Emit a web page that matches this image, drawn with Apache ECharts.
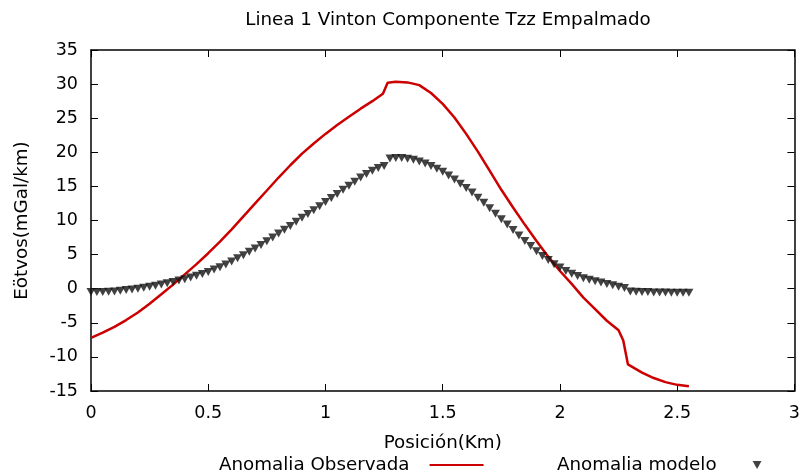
<!DOCTYPE html>
<html>
<head>
<meta charset="utf-8">
<script src="https://cdn.jsdelivr.net/npm/echarts@6/dist/echarts.min.js"></script>
<style>
  html, body { margin: 0; padding: 0; background: #fff; }
  #chart { width: 803px; height: 476px; }
</style>
</head>
<body>
<div id="chart"></div>
<script>
// Anomalia Observada (linea roja)
const posObs = [0, 0.05, 0.10, 0.15, 0.20, 0.25, 0.30, 0.35, 0.40, 0.45, 0.50, 0.55, 0.60, 0.65,
  0.70, 0.75, 0.80, 0.85, 0.90, 0.95, 1.00, 1.05, 1.10, 1.15, 1.20, 1.245, 1.265, 1.30, 1.35,
  1.40, 1.45, 1.50, 1.55, 1.60, 1.65, 1.70, 1.75, 1.80, 1.85, 1.90, 1.95, 2.00, 2.05, 2.10,
  2.15, 2.20, 2.25, 2.27, 2.29, 2.35, 2.40, 2.45, 2.50, 2.55]
const valObs = [-7.2, -6.45, -5.6, -4.6, -3.5, -2.2, -0.8, 0.6, 2.1, 3.6, 5.2, 6.9, 8.7, 10.6,
  12.5, 14.4, 16.3, 18.1, 19.8, 21.3, 22.7, 24.0, 25.2, 26.4, 27.5, 28.6, 30.2, 30.35, 30.25,
  29.85, 28.7, 27.1, 25.1, 22.7, 20.1, 17.3, 14.5, 11.9, 9.4, 7.0, 4.7, 2.6, 0.7, -1.3,
  -3.0, -4.7, -6.1, -7.6, -11.1, -12.3, -13.1, -13.7, -14.1, -14.3]

// Anomalia modelo (triangulos), paso 0.025 km desde 0
const pasoModelo = 0.025
const valModelo = [-0.5, -0.5, -0.5, -0.45, -0.4, -0.3, -0.2, -0.1, 0.0, 0.15,
  0.3, 0.45, 0.6, 0.8, 1.0, 1.2, 1.4, 1.65, 1.9, 2.15,
  2.45, 2.8, 3.15, 3.55, 4.0, 4.45, 4.9, 5.4, 5.9, 6.4,
  6.95, 7.5, 8.1, 8.65, 9.2, 9.8, 10.4, 10.95, 11.5, 12.1,
  12.7, 13.3, 13.9, 14.5, 15.1, 15.7, 16.3, 16.8, 17.3, 17.7,
  18.0, 19.1, 19.15, 19.15, 19.05, 18.9, 18.65, 18.35, 18.0, 17.6,
  17.15, 16.6, 16.0, 15.4, 14.75, 14.1, 13.35, 12.6, 11.8, 11.0,
  10.2, 9.4, 8.6, 7.8, 7.0, 6.25, 5.5, 4.8, 4.2, 3.6,
  3.1, 2.6, 2.2, 1.85, 1.55, 1.3, 1.1, 0.9, 0.7, 0.5,
  0.3, 0.1, -0.4, -0.45, -0.5, -0.5, -0.55, -0.55, -0.55, -0.6,
  -0.6, -0.6, -0.6]

const xTicks = { min: 0, max: 3, interval: 0.5 }
const yTicks = { min: -15, max: 35, interval: 5 }

const FONT = 'DejaVu Sans'
const tri = 'path://M0,0 L10,0 L5,9 Z'

function pairs (xs, ys) {
  let out = []
  for (let i = 0; i < ys.length; i++) out.push([xs[i], ys[i]])
  return out
}

let obsData = pairs(posObs, valObs)
let modeloData = valModelo.map((v, i) => [+(i * pasoModelo).toFixed(3), v])

const axisLine = { show: true, onZero: false, lineStyle: { color: '#000', width: 1.5 } }
const axisTick = { show: true, inside: true, length: 7, lineStyle: { color: '#000', width: 1 } }

let myCharts = echarts.init(document.getElementById('chart'))
myCharts.setOption({
  animation: false,
  backgroundColor: '#fff',
  textStyle: { fontFamily: FONT },
  title: {
    text: 'Linea 1 Vinton Componente Tzz Empalmado',
    left: 443, top: 6, textAlign: 'center',
    textStyle: { fontFamily: FONT, fontSize: 18.3, fontWeight: 'normal', color: '#000' }
  },
  legend: [{
    data: [{ name: 'Anomalia Observada' }],
    left: 214, top: 451, align: 'right',
    itemWidth: 54, itemHeight: 12, icon: 'path://M0,5 L54,5 L54,7 L0,7 Z',
    textStyle: { fontFamily: FONT, fontSize: 18.3, color: '#000', padding: [0, 15, 0, 0] }
  }, {
    data: [{ name: 'Anomalia modelo' }],
    left: 552, top: 451, align: 'right',
    itemWidth: 9, itemHeight: 8, icon: tri,
    textStyle: { fontFamily: FONT, fontSize: 18.3, color: '#000', padding: [0, 31, 0, 0] }
  }],
  grid: { left: 91, right: 6, top: 50, bottom: 85 },
  xAxis: [{
    type: 'value', min: xTicks.min, max: xTicks.max, interval: xTicks.interval,
    name: 'Posición(Km)', nameLocation: 'middle', nameGap: 43,
    nameTextStyle: { fontFamily: FONT, fontSize: 18.3, color: '#000' },
    axisLine: axisLine, axisTick: axisTick, splitLine: { show: false },
    axisLabel: { fontFamily: FONT, fontSize: 17.5, color: '#000', margin: 13 }
  }, {
    type: 'value', position: 'top', min: xTicks.min, max: xTicks.max, interval: xTicks.interval,
    axisLine: axisLine, axisTick: axisTick, splitLine: { show: false }, axisLabel: { show: false }
  }],
  yAxis: [{
    type: 'value', min: yTicks.min, max: yTicks.max, interval: yTicks.interval,
    name: 'Eötvos(mGal/km)', nameLocation: 'middle', nameGap: 60,
    nameTextStyle: { fontFamily: FONT, fontSize: 18.3, color: '#000' },
    axisLine: axisLine, axisTick: axisTick, splitLine: { show: false },
    axisLabel: { fontFamily: FONT, fontSize: 17.5, color: '#000', margin: 13 }
  }, {
    type: 'value', position: 'right', min: yTicks.min, max: yTicks.max, interval: yTicks.interval,
    axisLine: axisLine, axisTick: axisTick, splitLine: { show: false }, axisLabel: { show: false }
  }],
  series: [{
    name: 'Anomalia Observada',
    type: 'line',
    data: obsData,
    showSymbol: false,
    color: '#cc0000',
    lineStyle: { color: '#cc0000', width: 2.5 },
    z: 3
  }, {
    name: 'Anomalia modelo',
    type: 'scatter',
    data: modeloData,
    symbol: tri,
    symbolSize: [9, 8],
    itemStyle: { color: '#111' },
    z: 4
  }]
})
</script>
</body>
</html>
